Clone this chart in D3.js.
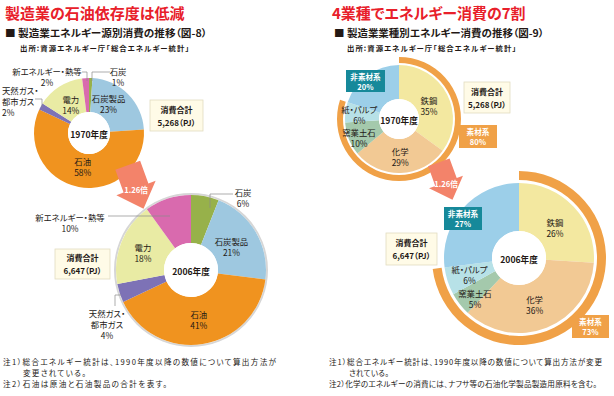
<!DOCTYPE html>
<html>
<head>
<meta charset="utf-8">
<script src="https://cdn.jsdelivr.net/npm/d3@7"></script>
<style>
  body { margin: 0; background: #fff; }
  svg { display: block; font-family: "Noto Sans CJK JP", sans-serif; font-feature-settings: "palt"; }
</style>
</head>
<body>
<script>
// ---- data ----
const years = ["1970年度", "2006年度"];
const totals = ["5,268", "6,647"];
const growth = "1.26倍";

const sources = ["石炭", "石炭製品", "石油", "天然ガス・都市ガス", "電力", "新エネルギー・熱等"];
const source1970 = [1, 23, 58, 2, 14, 2];
const source2006 = [6, 21, 41, 4, 18, 10];

const industries = ["鉄鋼", "化学", "窯業土石", "紙・パルプ", "非素材系"];
const industry1970 = [35, 29, 10, 6, 20];
const industry2006 = [26, 36, 5, 6, 27];
const isMaterial = [true, true, true, true, false];   // 素材系 = first four

const titles = ["製造業の石油依存度は低減", "4業種でエネルギー消費の7割"];
const subtitles = ["■ 製造業エネルギー源別消費の推移（図-8）", "■ 製造業業種別エネルギー消費の推移（図-9）"];
const sourceNote = "出所:資源エネルギー庁「総合エネルギー統計」";
const notesLeft = ["注1）総合エネルギー統計は、1990年度以降の数値について算出方法が", "変更されている。", "注2）石油は原油と石油製品の合計を表す。"];
const notesRight = ["注1）総合エネルギー統計は、1990年度以降の数値について算出方法が変更", "されている。", "注2）化学のエネルギーの消費には、ナフサ等の石油化学製品製造用原料を含む。"];

// ---- colours ----
const sourceColor = d3.scaleOrdinal()
  .domain(sources)
  .range(["#97b14a", "#9ec8e0", "#f0931f", "#7d72b6", "#e9eba4", "#d96aae"]);
const industryColor = d3.scaleOrdinal()
  .domain(industries)
  .range(["#f3e8a0", "#f2c994", "#a4c9ac", "#b7e1e7", "#9ccfe9"]);
const ringColor = "#f0a147";
const tealColor = "#16899a";
const arrowColor = "#f3836a";
const ink = "#231815";

const width = 614, height = 396;
const svg = d3.select("body").append("svg")
  .attr("width", width)
  .attr("height", height);

const pie = d3.pie().sort(null).value(d => d.value);
const deg = Math.PI / 180;

// headings
[5, 332].forEach((x, i) => {
  svg.append("text").attr("x", x).attr("y", 19)
    .attr("fill", "#e8202a").attr("font-size", "15px").attr("font-weight", "bold")
    .text(titles[i]);
  svg.append("text").attr("x", x + (i ? 2 : 0)).attr("y", 37)
    .attr("fill", ink).attr("font-size", "10px").attr("font-weight", "bold")
    .attr("textLength", i ? 210 : 202).attr("lengthAdjust", "spacingAndGlyphs")
    .text(subtitles[i]);
  svg.append("text").attr("x", x + 15).attr("y", 51)
    .attr("fill", ink).attr("font-size", "7.4px").attr("font-weight", "bold")
    .attr("textLength", 169).attr("lengthAdjust", "spacing")
    .text(sourceNote);
});

// notes (justified like the print original)
function notes(lines, x, widths) {
  const g = svg.append("g").attr("fill", ink).attr("font-size", "7.6px");
  lines.forEach((t, i) => {
    g.append("text")
      .attr("x", i === 1 ? x + 20 : x)
      .attr("y", [361, 372, 383][i])
      .attr("dominant-baseline", "central")
      .attr("textLength", widths[i]).attr("lengthAdjust", "spacing")
      .text(t);
  });
}
notes(notesLeft, 3, [273, 63, 164]);
notes(notesRight, 329, [273, 40, 268]);

function twoLine(g, x, y, lines, opts = {}) {
  const step = opts.step || 11;
  const t = g.append("text")
    .attr("text-anchor", opts.anchor || "middle")
    .attr("font-size", opts.size || "8.4px")
    .attr("fill", opts.fill || ink)
    .attr("font-weight", opts.weight || "normal");
  lines.forEach((s, i) => {
    t.append("tspan")
      .attr("x", x)
      .attr("y", y + (i - (lines.length - 1) / 2) * step)
      .attr("dominant-baseline", "central")
      .text(s);
  });
}

function box(x, y, w, h, lines, fill, stroke, textFill, size) {
  svg.append("rect").attr("x", x).attr("y", y).attr("width", w).attr("height", h)
    .attr("fill", fill).attr("stroke", stroke).attr("stroke-width", stroke === "none" ? 0 : 0.8);
  twoLine(svg, x + w / 2, y + h / 2, lines, { fill: textFill, size: size, weight: "bold", step: h > 26 ? 13 : 10 });
}

// block arrow pointing down, tilted toward the later pie
function arrow(cx, cy, s, rot) {
  const pts = [[-12, -22], [12, -22], [12, 0], [19, 0], [0, 20], [-19, 0], [-12, 0]]
    .map(p => [p[0] * s, p[1] * s]);
  svg.append("polygon")
    .attr("points", pts.map(p => p.join(",")).join(" "))
    .attr("fill", arrowColor)
    .attr("transform", `translate(${cx},${cy}) rotate(${rot})`);
  svg.append("text").attr("x", cx).attr("y", cy + 1)
    .attr("text-anchor", "middle").attr("dominant-baseline", "central")
    .attr("fill", "#fff").attr("font-size", "7.6px").attr("font-weight", "bold")
    .text(growth);
}

// draws one donut; inside: name -> {r, shift} for labels in the ring
function donut(cfg) {
  const rows = cfg.names.map((n, i) => ({ name: n, value: cfg.values[i] }));
  const arcs = pie(rows);
  const g = svg.append("g").attr("transform", `translate(${cfg.cx},${cfg.cy})`);
  const arc = d3.arc().innerRadius(cfg.r).outerRadius(cfg.R);

  if (cfg.outline) {
    g.append("circle").attr("r", cfg.R + 1).attr("fill", "none")
      .attr("stroke", "#d6d6d6").attr("stroke-width", 2);
  }

  g.selectAll("path.slice").data(arcs).join("path")
    .attr("class", "slice")
    .attr("d", arc)
    .attr("fill", d => cfg.color(d.data.name));

  if (cfg.ring) {
    const matTotal = d3.sum(rows.filter((d, i) => isMaterial[i]), d => d.value);
    g.append("path")
      .attr("d", d3.arc().innerRadius(cfg.ring[0]).outerRadius(cfg.ring[1])
        .startAngle(0).endAngle(matTotal / 100 * 2 * Math.PI)())
      .attr("fill", ringColor);
  }

  g.append("circle").attr("r", cfg.r).attr("fill", "#fff");
  g.append("text").attr("y", 1)
    .attr("text-anchor", "middle").attr("dominant-baseline", "central")
    .attr("fill", ink).attr("font-size", cfg.yearSize).attr("font-weight", "bold")
    .text(cfg.year);

  arcs.forEach(a => {
    const L = cfg.inside[a.data.name];
    if (!L) return;
    const ang = (a.startAngle + a.endAngle) / 2 + (L.shift || 0) * deg;
    const x = L.r * Math.sin(ang), y = -L.r * Math.cos(ang);
    twoLine(g, x, y, [a.data.name, a.data.value + "%"], { size: cfg.labelSize });
  });

  // outside labels with leader lines
  (cfg.outside || []).forEach(o => {
    const a = arcs.find(d => d.data.name === o.name);
    const lines = (o.lines || [o.name]).concat([a.data.value + "%"]);
    twoLine(g, o.x, o.y, lines, { size: cfg.labelSize, anchor: o.anchor || "middle" });
    g.append("polyline")
      .attr("points", o.leader.map(p => p.join(",")).join(" "))
      .attr("fill", "none").attr("stroke", "#8a8a8a").attr("stroke-width", 0.7);
  });
  return { g, arcs };
}

// ---- left: energy sources ----
donut({
  cx: 89, cy: 133, R: 55, r: 21, names: sources, values: source1970, color: sourceColor,
  year: years[0], yearSize: "8.6px", labelSize: "8.4px",
  inside: { "石炭製品": { r: 35, shift: -11 }, "石油": { r: 34 }, "電力": { r: 34 } },
  outside: [
    { name: "新エネルギー・熱等", x: -42, y: -56.5, leader: [[-7, -61], [-2, -61], [-2, -52]] },
    { name: "石炭", x: 29, y: -56.5, leader: [[21, -61], [3, -61], [3, -52]] },
    { name: "天然ガス・都市ガス", lines: ["天然ガス・", "都市ガス"], x: -87, y: -32, anchor: "start",
      leader: [[-54, -34], [-47, -34], [-47, -26]] }
  ]
});
donut({
  cx: 191, cy: 270, R: 75, r: 27, names: sources, values: source2006, color: sourceColor, outline: true,
  year: years[1], yearSize: "8.6px", labelSize: "8.4px",
  inside: { "石炭製品": { r: 47 }, "石油": { r: 50 }, "電力": { r: 51, shift: -2 } },
  outside: [
    { name: "石炭", x: 52, y: -72.5, leader: [[42, -76], [19, -76], [19, -62]] },
    { name: "新エネルギー・熱等", x: -121, y: -48, leader: [[-83, -54], [-21, -54]] },
    { name: "天然ガス・都市ガス", lines: ["天然ガス・", "都市ガス"], x: -84, y: 54,
      leader: [[-76, 36], [-76, 25], [-70, 25]] }
  ]
});
box(150, 100, 53, 31, ["消費合計", totals[0] + "（PJ）"], "#fffbe7", "#e2dcc0", ink, "8px");
box(55, 249, 55, 30, ["消費合計", totals[1] + "（PJ）"], "#fffbe7", "#e2dcc0", ink, "8px");
arrow(136, 188, 1.1, -20);

// ---- right: industries ----
donut({
  cx: 399, cy: 119, R: 54, r: 20, names: industries, values: industry1970, color: industryColor,
  ring: [56, 62], year: years[0], yearSize: "8.6px", labelSize: "8.4px",
  inside: { "鉄鋼": { r: 33, shift: 2 }, "化学": { r: 38 }, "窯業土石": { r: 44, shift: -3 }, "紙・パルプ": { r: 40 } }
});
donut({
  cx: 519, cy: 258, R: 75, r: 27, names: industries, values: industry2006, color: industryColor,
  ring: [78, 87], year: years[1], yearSize: "8.6px", labelSize: "8.4px",
  inside: { "鉄鋼": { r: 47, shift: 3 }, "化学": { r: 49, shift: 3 }, "窯業土石": { r: 60, shift: -5 }, "紙・パルプ": { r: 52 } }
});

const nonMat1970 = d3.sum(industry1970.filter((v, i) => !isMaterial[i]));
const nonMat2006 = d3.sum(industry2006.filter((v, i) => !isMaterial[i]));
box(346, 70, 39, 22, ["非素材系", nonMat1970 + "%"], tealColor, "none", "#fff", "7.6px");
box(444, 207, 38, 23, ["非素材系", nonMat2006 + "%"], tealColor, "none", "#fff", "7.6px");
box(459, 125, 38, 23, ["素材系", (100 - nonMat1970) + "%"], ringColor, "none", "#fff", "7.6px");
box(572, 315, 37, 23, ["素材系", (100 - nonMat2006) + "%"], ringColor, "none", "#fff", "7.6px");
box(464, 82, 46, 31, ["消費合計", totals[0] + "（PJ）"], "#fffbe7", "#e2dcc0", ink, "8px");
box(386, 233, 51, 32, ["消費合計", totals[1] + "（PJ）"], "#fffbe7", "#e2dcc0", ink, "8px");
arrow(446, 182, 0.95, -20);
</script>
</body>
</html>
